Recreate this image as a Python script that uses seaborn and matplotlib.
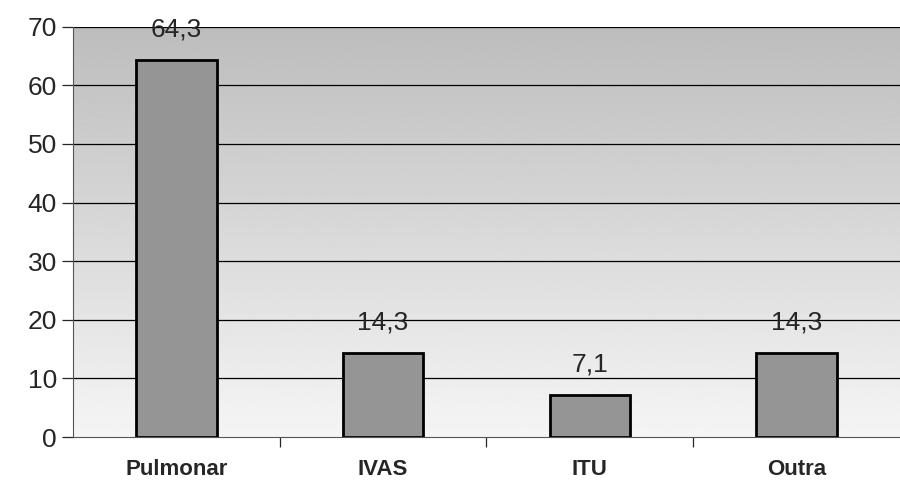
import numpy as np
import pandas as pd
import seaborn as sns
import matplotlib.pyplot as plt

sns.set_style("white")
plt.rcParams["font.family"] = ["Liberation Sans", "DejaVu Sans"]

# categories and percentages
categories = ["Pulmonar", "IVAS", "ITU", "Outra"]
values = [64.3, 14.3, 7.1, 14.3]
value_labels = ["64,3", "14,3", "7,1", "14,3"]

df = pd.DataFrame({"categoria": categories, "pct": values})

fig = plt.figure(figsize=(9, 4.83), dpi=100)
ax = fig.add_axes([0.081, 0.095, 0.919, 0.85])

# gray gradient background, darker at the top
grad = np.linspace(0.96, 0.74, 256).reshape(-1, 1)
ax.imshow(grad, cmap="gray", vmin=0, vmax=1, aspect="auto",
          extent=[-0.5, 3.5, 0, 70], origin="lower", zorder=0)

for y in range(10, 71, 10):
    ax.axhline(y, color="black", lw=0.9, zorder=1)

sns.barplot(data=df, x="categoria", y="pct", ax=ax, color="#959595",
            edgecolor="black", linewidth=2, width=0.39, saturation=1, zorder=2)

for i, (v, lab) in enumerate(zip(values, value_labels)):
    ax.text(i, v + 3.2, lab, ha="center", va="bottom", fontsize=19, zorder=3)

ax.set_xlim(-0.5, 3.5)
ax.set_ylim(0, 70)
ax.set_yticks(range(0, 71, 10))
ax.set_xlabel("")
ax.set_ylabel("")
ax.tick_params(axis="y", labelsize=19, length=8, width=0.9, left=True, direction="out")
ax.tick_params(axis="x", labelsize=16, length=0, pad=16)
for lab in ax.get_xticklabels():
    lab.set_fontweight("bold")

# category separator ticks on the x axis
ax.set_xticks([0.5, 1.5, 2.5], minor=True)
ax.tick_params(axis="x", which="minor", length=7, width=0.9, direction="out", bottom=True)

for side in ["top", "right"]:
    ax.spines[side].set_visible(False)
ax.spines["left"].set_color("#555555")
ax.spines["bottom"].set_color("#555555")

plt.savefig("out.png", dpi=100)
